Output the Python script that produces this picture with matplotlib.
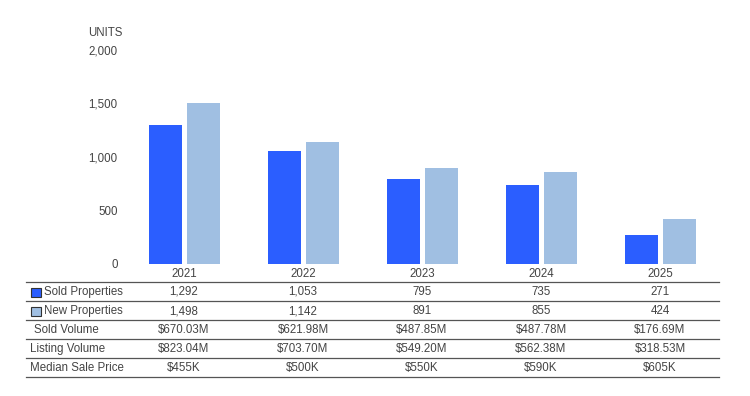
import matplotlib
matplotlib.use("Agg")
import matplotlib.pyplot as plt
from matplotlib.patches import Rectangle
from matplotlib.lines import Line2D

plt.rcParams['font.family'] = ['Liberation Sans', 'DejaVu Sans']

years = ["2021", "2022", "2023", "2024", "2025"]
sold = [1292, 1053, 795, 735, 271]
new_props = [1498, 1142, 891, 855, 424]
sold_volume = ["$670.03M", "$621.98M", "$487.85M", "$487.78M", "$176.69M"]
listing_volume = ["$823.04M", "$703.70M", "$549.20M", "$562.38M", "$318.53M"]
median_price = ["$455K", "$500K", "$550K", "$590K", "$605K"]
yticks = [0, 500, 1000, 1500, 2000]

SOLD_C = "#2B5EFF"
NEW_C = "#A0BFE2"
TXT = "#444444"
FS = 8.3

W, H = 750, 396
fig = plt.figure(figsize=(W / 100, H / 100), dpi=100)

def fx(px):
    return px / W

def fy(py):
    return 1 - py / H

ax_l, ax_r, ax_t, ax_b = 124.5, 719.5, 49.5, 264
ax = fig.add_axes([fx(ax_l), fy(ax_b), fx(ax_r - ax_l), (ax_b - ax_t) / H])
x = list(range(len(years)))
bw = 33 / 119
gap = 5 / 119
ax.bar([i - gap / 2 - bw / 2 for i in x], sold, width=bw, color=SOLD_C)
ax.bar([i + gap / 2 + bw / 2 for i in x], new_props, width=bw, color=NEW_C)
ax.set_xlim(-0.5, len(years) - 0.5)
ax.set_ylim(0, 2000)
ax.set_yticks(yticks)
ax.set_yticklabels([f"{v:,}" for v in yticks], fontsize=FS, color=TXT)
ax.set_xticks(x)
ax.set_xticklabels(years, fontsize=FS, color=TXT)
ax.tick_params(axis='both', length=0)
ax.tick_params(axis='x', pad=3)
ax.tick_params(axis='y', pad=5)
for s in ax.spines.values():
    s.set_visible(False)

fig.text(fx(88), fy(33), "UNITS", fontsize=FS, color=TXT, ha='left', va='center')

# table
lines_y = [282, 301, 320, 339, 358, 377]
for ly in lines_y:
    fig.add_artist(Line2D([fx(26), fx(719)], [fy(ly), fy(ly)], color="#555555", lw=0.9))

rows = [
    ("Sold Properties", [f"{v:,}" for v in sold], SOLD_C, 44),
    ("New Properties", [f"{v:,}" for v in new_props], NEW_C, 44),
    ("Sold Volume", sold_volume, None, 34),
    ("Listing Volume", listing_volume, None, 30),
    ("Median Sale Price", median_price, None, 30),
]
centers = [ax_l + 59.5 + 119 * i for i in range(len(years))]
for r, (label, vals, col, lx) in enumerate(rows):
    cy = (lines_y[r] + lines_y[r + 1]) / 2 + 0.5
    if col is not None:
        fig.add_artist(Rectangle((fx(31), fy(cy + 5)), fx(9.5), 9.5 / H,
                                 facecolor=col, edgecolor="#333333", lw=0.8))
    fig.text(fx(lx), fy(cy), label, fontsize=FS, color=TXT, ha='left', va='center')
    for c, v in zip(centers, vals):
        fig.text(fx(c), fy(cy), v, fontsize=FS, color=TXT, ha='center', va='center')

fig.savefig("out.png", dpi=100)
